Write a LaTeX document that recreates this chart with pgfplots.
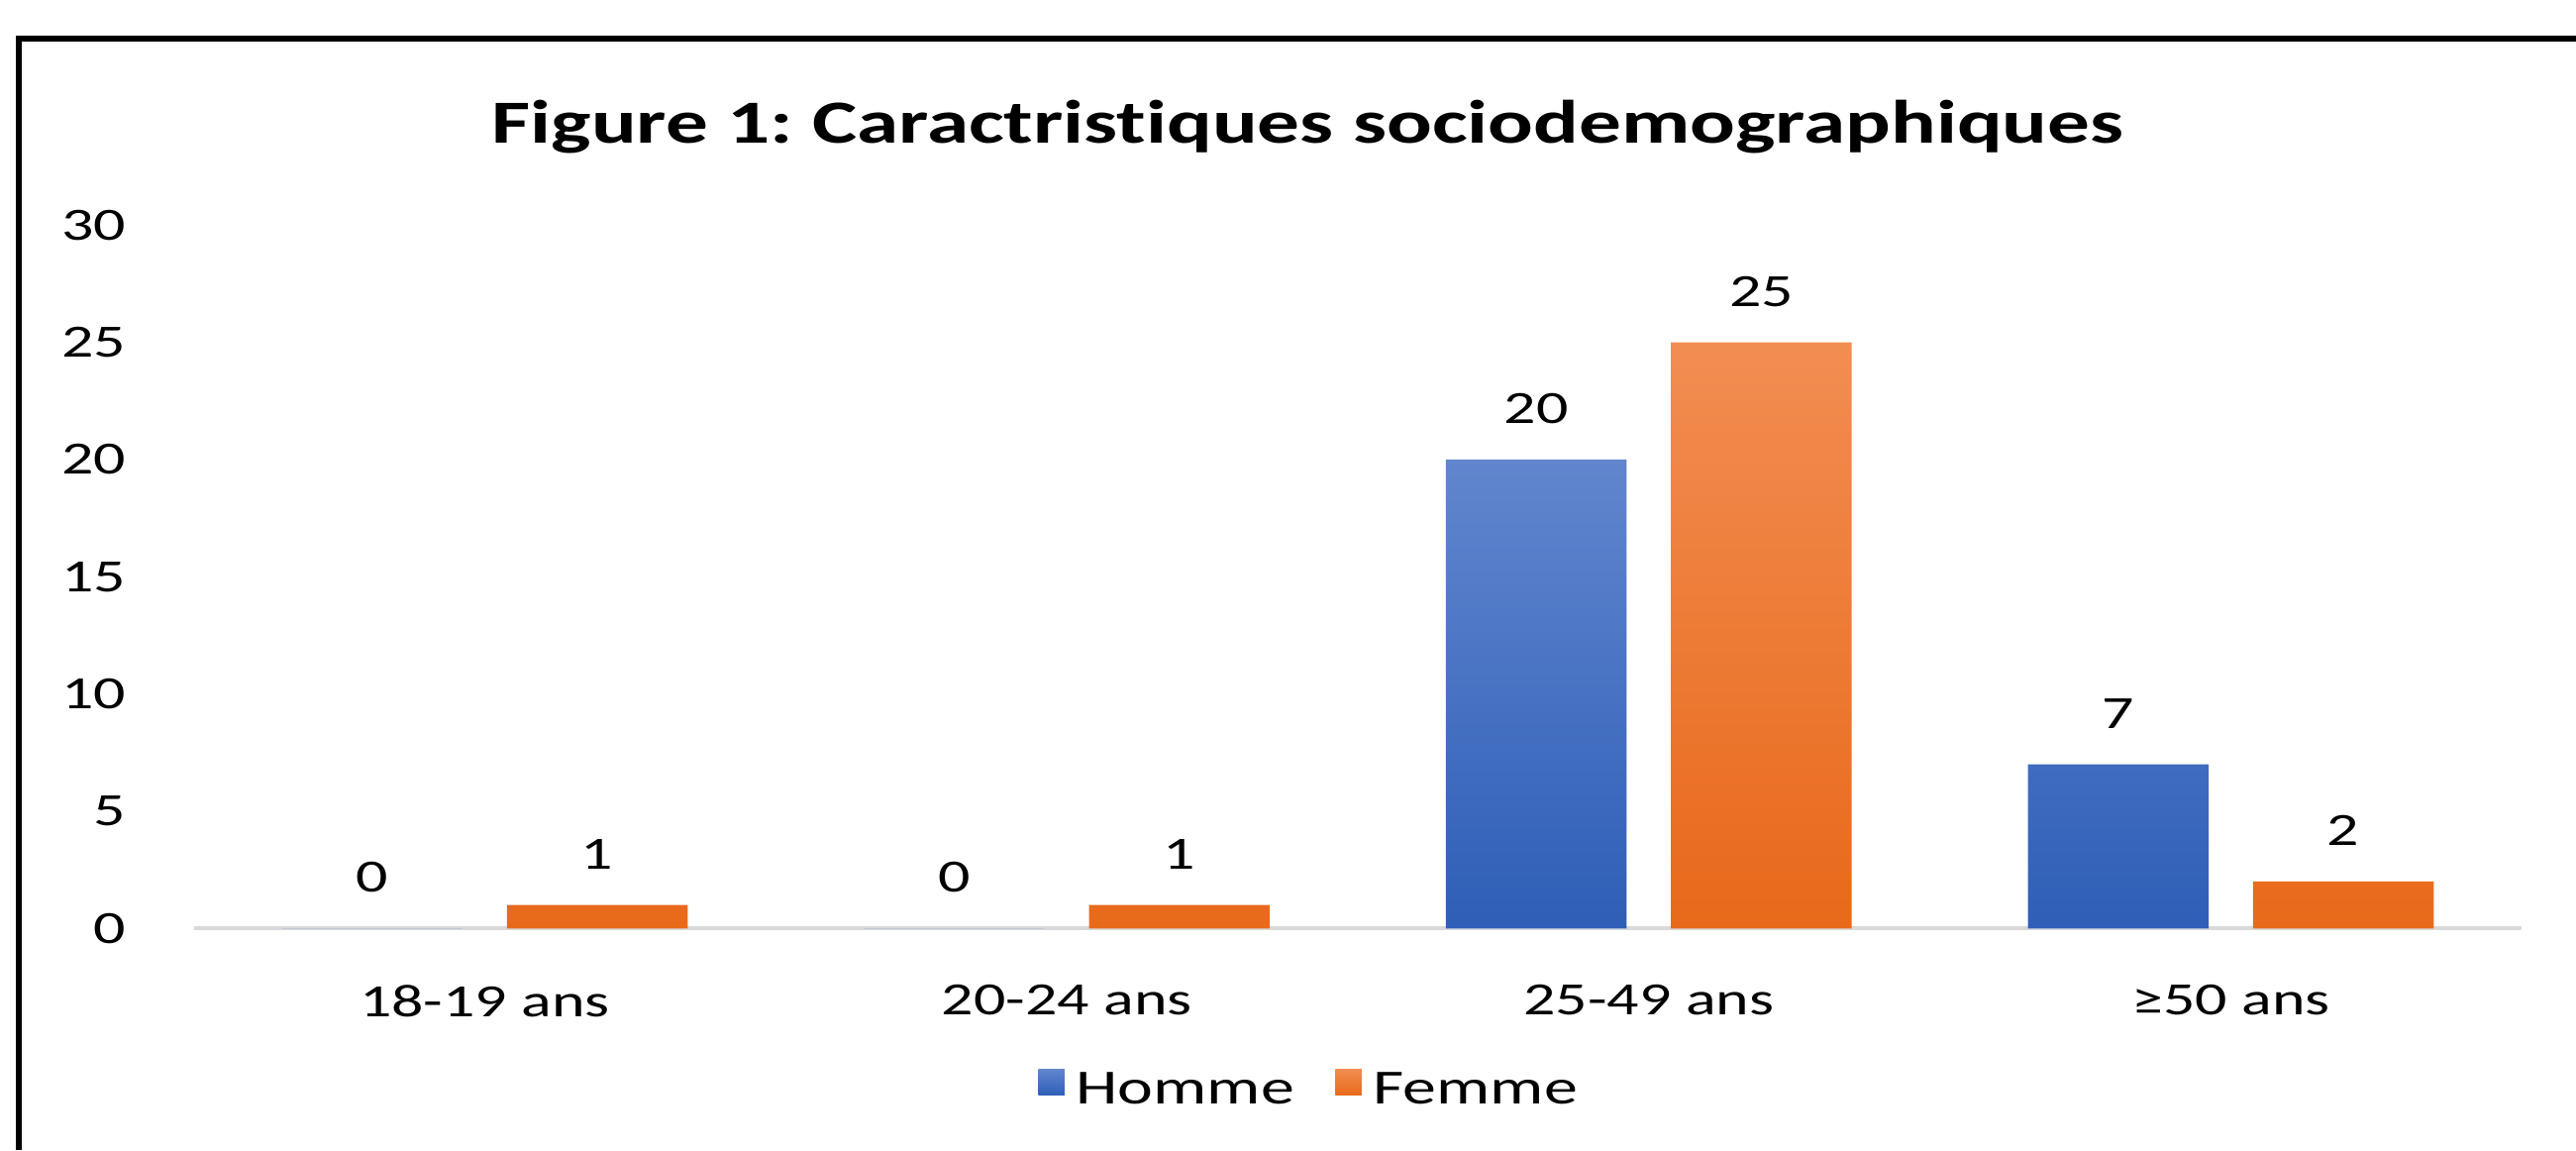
\documentclass[border=0pt]{standalone}
\usepackage{pgfplots}
\pgfplotsset{compat=1.18}
\usepackage{pgfplotstable}
\usepackage{fontspec}
\setmainfont{Carlito}[FakeStretch=1.37]
\newfontfamily\titlefont{Carlito}[FakeStretch=1.38, Ligatures=NoCommon]
\frenchspacing

\definecolor{hommeTop}{HTML}{6186CE}
\definecolor{hommeBot}{HTML}{2E5EB7}
\definecolor{femmeTop}{HTML}{F28D52}
\definecolor{femmeBot}{HTML}{E8691A}
\definecolor{baseGray}{HTML}{D9D9D9}

% age groups: 0 = 18-19, 1 = 20-24, 2 = 25-49, 3 = >=50
\pgfplotstableread{
x homme femme
0 0  1
1 0  1
2 20 25
3 7  2
}\agedata

\begin{document}
\begin{tikzpicture}
\path[use as bounding box, fill=white] (0mm,0mm) rectangle (156.8mm,70mm);
\draw[line width=0.35mm] (1.15mm,0mm) -- (1.15mm,67.63mm) -- (156.8mm,67.63mm);
\node[anchor=base, font=\titlefont\bfseries\fontsize{10.6}{12}\selectfont]
  at (79.6mm,61.3mm) {Figure 1: Caractristiques sociodemographiques};
\begin{axis}[
  at={(11.8mm,13.5mm)}, anchor=south west,
  scale only axis, width=141.7mm, height=42.8mm,
  ybar=2.7mm, bar width=11mm,
  xmin=-0.5, xmax=3.5, ymin=0, ymax=30,
  enlargelimits=false, clip=false,
  ytick={0,5,...,30},
  xtick=data,
  xticklabels={18-19 ans,20-24 ans,25-49 ans,≥50 ans},
  axis x line*=bottom, axis y line*=left,
  x axis line style={draw=baseGray, line width=0.24mm},
  y axis line style={draw=none},
  major tick length=0pt,
  /pgf/number format/assume math mode=true,
  tick label style={font=\fontsize{8}{9.6}\selectfont, black},
  yticklabel style={xshift=-2.9mm},
  xticklabel style={yshift=-2.2mm},
  nodes near coords,
  nodes near coords style={font=\fontsize{8}{9.6}\selectfont, black,
    anchor=south, inner sep=0pt, yshift=2.1mm},
  legend columns=2,
  legend style={at={(0.481,-0.234)}, anchor=center, draw=none, fill=none,
    font=\fontsize{8.5}{10}\selectfont,
    /tikz/every even column/.append style={column sep=1.8mm}},
  every axis plot post/.append style={
    legend image code/.code={\path[##1] (0mm,-0.15mm) rectangle (1.6mm,1.45mm);}},
]
\addplot[draw=none, top color=hommeTop, bottom color=hommeBot]
  table[x=x, y=homme] {\agedata};
\addplot[draw=none, top color=femmeTop, bottom color=femmeBot]
  table[x=x, y=femme] {\agedata};
\legend{Homme,Femme}
\end{axis}
\end{tikzpicture}
\end{document}
